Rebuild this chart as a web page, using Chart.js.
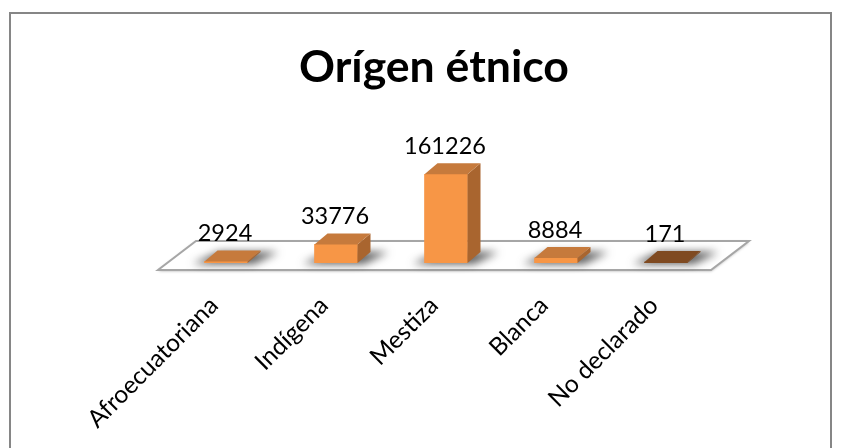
<!DOCTYPE html>
<html>
<head>
<meta charset="utf-8">
<script src="https://cdn.jsdelivr.net/npm/chart.js@4"></script>
<style>
  html, body { margin: 0; padding: 0; background: #fff; }
  #wrap { position: absolute; left: 9px; top: 12px; width: 823px; height: 500px; border: 2px solid #868686; box-sizing: border-box; }
  #page { position: absolute; left: 0; top: 0; width: 847px; height: 448px; overflow: hidden; }
  #chart { position: absolute; left: 0; top: 0; }
</style>
</head>
<body>
<div id="page">
<div id="wrap"></div>
<canvas id="chart" width="847" height="448"></canvas>
</div>
<script>
const categories = ["Afroecuatoriana", "Indígena", "Mestiza", "Blanca", "No declarado"]
const values = [2924, 33776, 161226, 8884, 171]

const frontColors = ["#F79646", "#F79646", "#F79646", "#F79646", "#7F4A21"]
const topColors = ["#C67A3C", "#C67A3C", "#C67A3C", "#C67A3C", "#7F4A21"]
const sideColors = ["#A9652F", "#A9652F", "#A9652F", "#A9652F", "#7F4A21"]

// depth of the bars and of the floor, in pixels
const barDepth = { x: 13, y: 11 }
const floorDepth = { x: 38, y: 29 }

function face(c, pts, color) {
  c.beginPath()
  pts.forEach((p, i) => i ? c.lineTo(p[0], p[1]) : c.moveTo(p[0], p[1]))
  c.closePath()
  c.fillStyle = color
  c.fill()
}

// the title sits left of the plot centre
const titleShiftPlugin = {
  id: "titleShift",
  afterLayout(chart) {
    chart.titleBlock.left -= 12
    chart.titleBlock.right -= 12
  }
}

// the floor and the soft shadows go under the bars
const floorPlugin = {
  id: "floor",
  beforeDatasetsDraw(chart) {
    const c = chart.ctx
    const yBase = chart.scales.y.getPixelForValue(0)
    const front = yBase + 7
    const back = front - floorDepth.y
    const pts = [[158, front], [711, front], [711 + floorDepth.x, back], [158 + floorDepth.x, back]]

    c.save()
    c.beginPath()
    pts.forEach((p, i) => i ? c.lineTo(p[0], p[1]) : c.moveTo(p[0], p[1]))
    c.closePath()
    c.fillStyle = "#fff"
    c.shadowColor = "rgba(0,0,0,0.35)"
    c.shadowBlur = 3
    c.shadowOffsetY = 1
    c.fill()
    c.shadowColor = "transparent"
    c.strokeStyle = "#A6A6A6"
    c.lineWidth = 2
    c.stroke()
    c.restore()

    c.save()
    c.filter = "blur(4px)"
    chart.getDatasetMeta(0).data.forEach(bar => {
      const l = bar.x - bar.width / 2
      const r = bar.x + bar.width / 2
      face(c, [[l - 12, yBase + 1], [r + 6, yBase + 1], [r + barDepth.x + 18, yBase - barDepth.y], [l + barDepth.x + 2, yBase - barDepth.y]], "rgba(60,60,60,0.85)")
    })
    c.restore()
  }
}

// top and side faces, then the value over each bar
const bar3dPlugin = {
  id: "bar3d",
  afterDatasetsDraw(chart) {
    const c = chart.ctx
    chart.getDatasetMeta(0).data.forEach((bar, i) => {
      const l = bar.x - bar.width / 2
      const r = bar.x + bar.width / 2
      const t = bar.y
      const b = bar.base
      const dx = barDepth.x
      const dy = barDepth.y
      face(c, [[r, t], [r + dx, t - dy], [r + dx, b - dy], [r, b]], sideColors[i])
      face(c, [[l, t], [r, t], [r + dx, t - dy], [l + dx, t - dy]], topColors[i])

      c.save()
      c.font = "23.5px Lato"
      c.fillStyle = "#000"
      c.textAlign = "center"
      c.textBaseline = "middle"
      c.fillText(String(values[i]), bar.x - 1, t - 28)
      c.restore()
    })
  }
}

new Chart(document.getElementById("chart"), {
  type: "bar",
  data: {
    labels: categories,
    datasets: [{
      data: values,
      backgroundColor: frontColors,
      barThickness: 43,
      minBarLength: 1
    }]
  },
  options: {
    responsive: false,
    animation: false,
    layout: { padding: { left: 171, right: 126, top: 0, bottom: 12 } },
    plugins: {
      legend: { display: false },
      tooltip: { enabled: false },
      title: {
        display: true,
        text: "Orígen étnico",
        color: "#000",
        font: { family: "Lato", size: 44.6, weight: "bold" },
        padding: { top: 41, bottom: 60 }
      }
    },
    scales: {
      x: {
        grid: { display: false },
        border: { display: false },
        afterFit: s => { s.height = 173 },
        ticks: {
          color: "#000",
          font: { family: "Lato", size: 24.5 },
          minRotation: 45,
          maxRotation: 45,
          padding: 20,
          labelOffset: -12
        }
      },
      y: {
        display: false,
        min: 0,
        max: 197000
      }
    }
  },
  plugins: [titleShiftPlugin, floorPlugin, bar3dPlugin]
})
</script>
</body>
</html>
